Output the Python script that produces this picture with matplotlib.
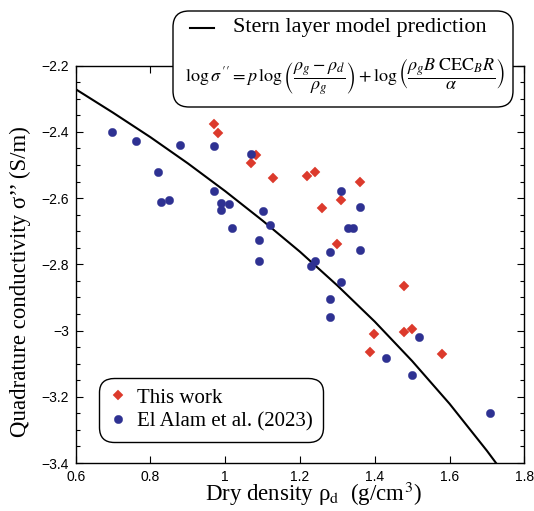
import matplotlib
matplotlib.use("Agg")
from matplotlib import pyplot as plt
from matplotlib.patches import FancyBboxPatch
from matplotlib.lines import Line2D
from matplotlib.transforms import Affine2D
from matplotlib.ticker import MultipleLocator, FuncFormatter

plt.rcParams['font.family'] = ['Liberation Serif', 'DejaVu Serif']
plt.rcParams['mathtext.fontset'] = 'stix'

# This work (red diamonds)
this_rho = [0.969, 0.980, 1.081, 1.069, 1.129, 1.218, 1.240, 1.360, 1.309,
            1.259, 1.300, 1.479, 1.399, 1.479, 1.500, 1.388, 1.579]
this_sig = [-2.376, -2.404, -2.471, -2.494, -2.538, -2.534, -2.520, -2.551, -2.607,
            -2.629, -2.738, -2.864, -3.011, -3.004, -2.996, -3.066, -3.072]

# El Alam et al. (2023) (blue circles)
alam_rho = [0.698, 0.760, 0.819, 0.829, 0.850, 0.879, 0.969, 0.969, 0.989, 0.989,
            1.010, 1.018, 1.070, 1.090, 1.090, 1.100, 1.120, 1.229, 1.239, 1.279,
            1.279, 1.279, 1.310, 1.309, 1.329, 1.341, 1.360, 1.361, 1.429, 1.500,
            1.519, 1.708]
alam_sig = [-2.400, -2.427, -2.520, -2.613, -2.605, -2.440, -2.443, -2.578, -2.614, -2.637,
            -2.617, -2.690, -2.467, -2.725, -2.789, -2.638, -2.680, -2.805, -2.791, -2.763,
            -2.906, -2.958, -2.577, -2.852, -2.690, -2.690, -2.628, -2.756, -3.084, -3.134,
            -3.020, -3.249]

# Stern layer model curve
model_rho = [0.6, 0.7, 0.8, 0.9, 1.0, 1.1, 1.2, 1.3, 1.4, 1.5, 1.6, 1.7, 1.725]
model_sig = [-2.271, -2.342, -2.416, -2.495, -2.579, -2.668, -2.762, -2.864, -2.973,
             -3.092, -3.221, -3.363, -3.401]

W, H = 534, 511
fig = plt.figure(figsize=(W / 100, H / 100), dpi=100)
ax = fig.add_axes([75.7 / W, 1 - 463 / H, (524.3 - 75.7) / W, (463 - 65.7) / H])

red = '#dc3a2c'
blue = '#2e3192'

ax.plot(model_rho, model_sig, color='black', lw=1.5, zorder=2)
ax.plot(this_rho, this_sig, 'D', color=red, ms=4.7, mec=red, mew=0.3, zorder=3, label='This work')
ax.plot(alam_rho, alam_sig, 'o', color=blue, ms=6, mec=blue, mew=0.3, zorder=4, label='El Alam et al. (2023)')

ax.set_xlim(0.6, 1.8)
ax.set_ylim(-3.4, -2.2)
ax.xaxis.set_major_locator(MultipleLocator(0.2))
ax.yaxis.set_major_locator(MultipleLocator(0.2))
ax.yaxis.set_minor_locator(MultipleLocator(0.05))
fmt = FuncFormatter(lambda v, p: ('%g' % round(v, 3)).replace('-', '\u2212'))
ax.xaxis.set_major_formatter(fmt)
ax.yaxis.set_major_formatter(fmt)
ax.tick_params(which='both', direction='in', top=True, right=True, width=0.8,
               labelsize=10, labelfontfamily='Liberation Sans', pad=5)
ax.tick_params(which='major', length=5)
ax.tick_params(which='minor', length=3)
for s in ax.spines.values():
    s.set_linewidth(1.0)

ax.set_xlabel('Dry density \u03c1$_\\mathrm{d}$  (g/cm$^3$)', fontsize=16.5)
ax.set_ylabel('Quadrature conductivity \u03c3\u2019\u2019 (S/m)', fontsize=16.5)
ax.xaxis.set_label_coords(0.53, -0.096, transform=ax.transAxes)
ax.xaxis.label.set_va('baseline')
ax.yaxis.set_label_coords(-0.10, 0.457, transform=ax.transAxes)

leg = ax.legend(loc='lower left', bbox_to_anchor=(0.052, 0.053), borderaxespad=0,
                fontsize=15, handlelength=0.8, handletextpad=0.5, labelspacing=0.2,
                borderpad=0.5, frameon=True, fancybox=True)
frame = leg.get_frame()
frame.set_edgecolor('black')
frame.set_linewidth(1.0)
frame.set_alpha(1)
frame.set_boxstyle('round,pad=0,rounding_size=0.7')

# top legend box with the model equation (pixel coords, origin bottom-left)
px = Affine2D().scale(1 / W, 1 / H) + fig.transFigure
box = FancyBboxPatch((173, H - 107), 340, 96, boxstyle='round,pad=0,rounding_size=16',
                     transform=px, facecolor='white', edgecolor='black', lw=1.0, zorder=5)
fig.add_artist(box)
fig.add_artist(Line2D([190, 214], [H - 28, H - 28], transform=px, color='black', lw=1.5, zorder=6))
fig.text(233 / W, 1 - 27 / H, 'Stern layer model prediction', fontsize=16,
         ha='left', va='center', zorder=6)
fig.text(345 / W, 1 - 77 / H,
         r"$\log\sigma\,'' = p\,\log\left(\dfrac{\rho_g-\rho_d}{\rho_g}\right)"
         r"+\log\left(\dfrac{\rho_g B\;\mathrm{CEC}_B R}{\alpha}\right)$",
         fontsize=13, ha='center', va='center', zorder=6)

plt.savefig('out.png', dpi=100)
